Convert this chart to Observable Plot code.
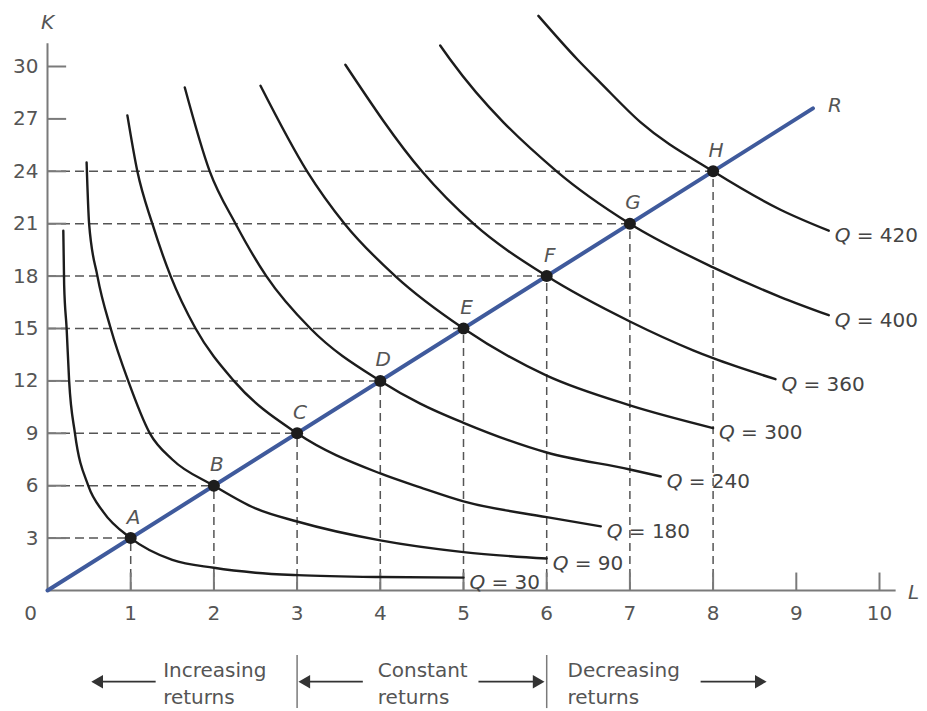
<!DOCTYPE html>
<html>
<head>
<meta charset="utf-8">
<script src="https://cdn.jsdelivr.net/npm/d3@7"></script>
<script src="https://cdn.jsdelivr.net/npm/@observablehq/plot@0.6"></script>
<style>
  html, body { margin: 0; padding: 0; background: #fff; }
  #chart svg { display: block; }
</style>
</head>
<body>
<div id="chart"></div>
<script>
// ---- Axis ticks ----
const xTicks = [1, 2, 3, 4, 5, 6, 7, 8, 9, 10];
const yTicks = [3, 6, 9, 12, 15, 18, 21, 24, 27, 30];

// ---- Expansion path points ----
const pointLabels = ["A", "B", "C", "D", "E", "F", "G", "H"];
const pointL = [1, 2, 3, 4, 5, 6, 7, 8];
const pointK = [3, 6, 9, 12, 15, 18, 21, 24];

// ---- Ray R ----
const rayL = [0, 9.2];
const rayK = [0, 27.6];

// ---- Isoquants ----
const q30L = [0.19, 0.2, 0.23, 0.26, 0.33, 0.49, 0.67, 1, 1.5, 2, 2.5, 3, 4, 5];
const q30K = [20.6, 17.5, 15, 12, 9, 6, 4.5, 3, 1.75, 1.3, 1.02, 0.88, 0.77, 0.74];
const q90L = [0.47, 0.5, 0.6, 0.76, 0.97, 1.23, 1.5, 2, 2.5, 3, 4, 5, 6];
const q90K = [24.5, 21, 18, 15, 12, 9, 7.5, 6, 4.7, 3.95, 2.87, 2.2, 1.83];
const q180L = [0.96, 1.08, 1.26, 1.48, 1.78, 2.24, 3, 4, 4.48, 5, 6, 6.65];
const q180K = [27.2, 24, 21, 18, 15, 12, 9, 6.7, 5.9, 5.1, 4.2, 3.67];
const q240L = [1.65, 1.95, 2.26, 2.63, 3.16, 4, 4.48, 5, 6, 7, 7.37];
const q240K = [28.8, 24, 21, 18, 15, 12, 10.7, 9.6, 7.9, 6.93, 6.53];
const q300L = [2.56, 3.12, 3.57, 4.18, 5, 6, 7, 8];
const q300K = [28.9, 24, 21, 18, 15, 12.3, 10.6, 9.3];
const q360L = [3.58, 4.5, 5.12, 6, 7, 7.76, 8, 8.75];
const q360K = [30.1, 24, 21, 18, 15.4, 13.75, 13.3, 12.1];
const q400L = [4.72, 4.84, 6.12, 7, 8, 8.81, 9.39];
const q400K = [31.2, 30.4, 24, 21, 18.5, 16.8, 15.76];
const q420L = [5.9, 6.37, 6.65, 7.13, 8, 8.81, 9.39];
const q420K = [32.9, 30.4, 29.05, 26.8, 24, 21.8, 20.6];
const qValues = [30, 90, 180, 240, 300, 360, 400, 420];

// ---- Bottom annotation ----
const returnsLabels = ["Increasing\nreturns", "Constant\nreturns", "Decreasing\nreturns"];
const returnsBounds = [3, 6];

// ---- Build tables ----
const curveL = [q30L, q90L, q180L, q240L, q300L, q360L, q400L, q420L];
const curveK = [q30K, q90K, q180K, q240K, q300K, q360K, q400K, q420K];
const curveRows = qValues.flatMap((q, j) => curveL[j].map((l, i) => ({q, L: l, K: curveK[j][i]})));
const curveEnds = qValues.map((q, j) => ({q, L: curveL[j].at(-1), K: curveK[j].at(-1)}));
const points = pointLabels.map((label, i) => ({label, L: pointL[i], K: pointK[i]}));
const rayRows = rayL.map((l, i) => ({L: l, K: rayK[i]}));

// annotation layout (in L / K units)
const annoTextX = [1.39, 3.97, 6.25];
const annoY = -5.22;
const arrows = [
  {x1: 1.3, x2: 0.62, dir: -1},
  {x1: 3.79, x2: 3.11, dir: -1},
  {x1: 5.18, x2: 5.88, dir: 1},
  {x1: 7.85, x2: 8.55, dir: 1}
];

const ink = "#1c1c1c";
const gray = "#555";
const axisGray = "#7a7a7a";
const font = "DejaVu Sans, sans-serif";

const chart = Plot.plot({
  width: 927,
  height: 711,
  marginLeft: 47,
  marginRight: 48,
  marginTop: 66,
  marginBottom: 121,
  x: {domain: [0, 10], axis: null},
  y: {domain: [0, 30], axis: null},
  style: {fontFamily: font, background: "#fff"},
  marks: [
    // dashed guides
    Plot.ruleY(points, {y: "K", x1: 0, x2: "L", stroke: gray, strokeWidth: 1.5, strokeDasharray: "9,5"}),
    Plot.ruleX(points, {x: "L", y1: 0, y2: "K", stroke: gray, strokeWidth: 1.5, strokeDasharray: "8,5"}),
    // axes
    Plot.ruleY([0], {x1: 0, x2: 10.2, stroke: axisGray, strokeWidth: 2}),
    Plot.ruleX([0], {y1: 0, y2: 31.3, stroke: axisGray, strokeWidth: 2}),
    Plot.ruleY(yTicks, {y: d => d, x1: 0, x2: 0.23, stroke: axisGray, strokeWidth: 2}),
    Plot.ruleX(xTicks, {x: d => d, y1: 0, y2: 1, stroke: axisGray, strokeWidth: 2}),
    Plot.text(yTicks, {x: 0, y: d => d, text: d => String(d), textAnchor: "end", dx: -9, fontSize: 20, fill: gray}),
    Plot.text(xTicks, {x: d => d, y: 0, text: d => String(d), dy: 23, fontSize: 20, fill: gray}),
    Plot.text(["0"], {x: 0, y: 0, text: d => d, dx: -17, dy: 23, fontSize: 20, fill: gray}),
    Plot.text(["K"], {x: 0, y: 32.5, text: d => d, fontStyle: "italic", fontSize: 20, fill: gray}),
    Plot.text(["L"], {x: 10.41, y: -0.1, text: d => d, fontStyle: "italic", fontSize: 20, fill: gray}),
    // isoquants
    Plot.line(curveRows, {x: "L", y: "K", z: "q", curve: "monotone-x", stroke: ink, strokeWidth: 2.4}),
    // ray
    Plot.line(rayRows, {x: "L", y: "K", stroke: "#3f5a9c", strokeWidth: 4}),
    Plot.text(rayRows.slice(-1), {x: "L", y: "K", text: () => "R", dx: 22, dy: -3, fontStyle: "italic", fontSize: 20, fill: gray}),
    // points
    Plot.dot(points, {x: "L", y: "K", r: 6, fill: ink, stroke: "none"}),
    Plot.text(points, {x: "L", y: "K", text: "label", dx: 3, dy: -21, fontStyle: "italic", fontSize: 20, fill: gray}),
    // Q labels
    Plot.text(curveEnds, {x: "L", y: "K", text: () => "Q", dx: 6, dy: 5, textAnchor: "start", fontStyle: "italic", fontSize: 20, fill: "#444"}),
    Plot.text(curveEnds, {x: "L", y: "K", text: d => "= " + d.q, dx: 28, dy: 5, textAnchor: "start", fontSize: 20, fill: "#444"}),
    // bottom annotation
    Plot.ruleX(returnsBounds, {x: d => d, y1: -3.72, y2: -6.76, stroke: axisGray, strokeWidth: 1.5}),
    Plot.text(returnsLabels, {x: (d, i) => annoTextX[i], y: annoY, text: d => d, textAnchor: "start", lineHeight: 1.35, fontSize: 20, fill: gray}),
    Plot.link(arrows, {x1: "x1", x2: "x2", y1: annoY, y2: annoY, stroke: "#333", strokeWidth: 1.8}),
    Plot.dot(arrows, {x: "x2", y: annoY, symbol: "triangle", rotate: d => d.dir * 90, r: 5, fill: "#333", stroke: "none"})
  ]
});

document.getElementById("chart").appendChild(chart);
</script>
</body>
</html>
